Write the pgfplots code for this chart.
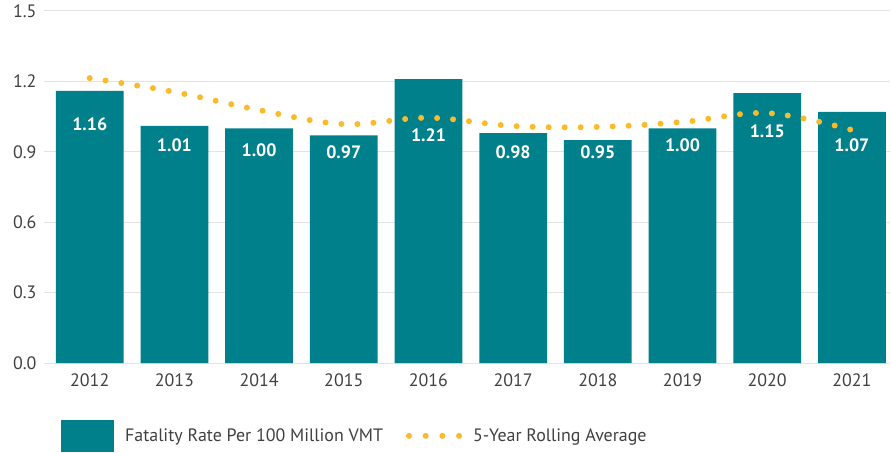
\documentclass[border=0pt]{standalone}
\usepackage{fontspec}
\setmainfont{PT Sans}
\usepackage{pgfplots}
\pgfplotsset{compat=1.18}
\definecolor{barc}{HTML}{00808A}
\definecolor{avgc}{HTML}{FBBA2A}
\definecolor{gridc}{HTML}{E3E3E3}
\definecolor{tickc}{HTML}{404040}

\pgfplotstableread{
x  rate  lbly  lbl
0  1.16  1.018 1.16
1  1.01  0.929 1.01
2  1.00  0.908 1.00
3  0.97  0.899 0.97
4  1.21  0.971 1.21
5  0.98  0.899 0.98
6  0.95  0.899 0.95
7  1.00  0.929 1.00
8  1.15  0.988 1.15
9  1.07  0.929 1.07
}\ratedata

\pgfplotstableread{
x  avg
0  1.214
1  1.155
2  1.078
3  1.018
4  1.045
5  1.010
6  1.006
7  1.027
8  1.065
9  0.993
}\avgdata

\begin{document}
\begin{tikzpicture}
\useasboundingbox (-44bp,-90bp) rectangle (848bp,363bp);
\begin{axis}[
  scale only axis,
  width=846bp, height=352bp,
  xmin=-0.54, xmax=9.45,
  ymin=0, ymax=1.5,
  xtick={0,...,9},
  xticklabels={2012,2013,2014,2015,2016,2017,2018,2019,2020,2021},
  ytick={0,0.3,0.6,0.9,1.2,1.5},
  yticklabel style={/pgf/number format/fixed, /pgf/number format/fixed zerofill,
    /pgf/number format/precision=1, /pgf/number format/assume math mode=true, xshift=-4bp},
  ticklabel style={font=\fontsize{18}{21}\selectfont, text=tickc},
  xticklabel style={yshift=-7bp},
  major tick length=0pt,
  axis line style={draw=none},
  ymajorgrids, grid style={gridc, line width=1bp},
  legend columns=2,
  legend cell align=left,
  legend style={draw=none, fill=none, at={(axis description cs:0.02,-0.207)}, anchor=west,
    font=\fontsize{18}{21}\selectfont, text=tickc, inner sep=0pt,
    nodes={inner sep=0pt},
    /tikz/every odd column/.append style={column sep=11bp},
    /tikz/every even column/.append style={column sep=23bp}},
]
\addplot[ybar, bar width=0.8, fill=barc, draw=none,
  legend image code/.code={\fill[barc] (0bp,-16bp) rectangle (53bp,16bp);}]
  table[x=x, y=rate] {\ratedata};
\addlegendentry{Fatality Rate Per 100 Million VMT}

\addplot[avgc, line width=6bp, line cap=round, dash pattern=on 0bp off 16bp, smooth, tension=0.6,
  legend image code/.code={\draw[avgc, line width=6bp, line cap=round, dash pattern=on 0bp off 16.7bp] (3bp,0) -- (53.1bp,0);}]
  table[x=x, y=avg] {\avgdata};
\addlegendentry{5-Year Rolling Average}

\addplot[only marks, mark=none, nodes near coords, point meta=explicit symbolic,
  nodes near coords style={font=\bfseries\fontsize{18}{21}\selectfont, text=white, anchor=center}]
  table[x=x, y=lbly, meta=lbl] {\ratedata};
\end{axis}
\end{tikzpicture}
\end{document}
